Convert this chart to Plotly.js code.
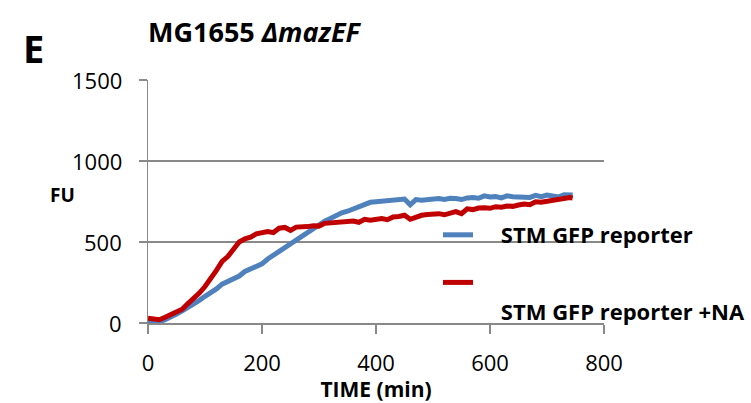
<!DOCTYPE html>
<html>
<head>
<meta charset="utf-8">
<script src="https://cdn.plot.ly/plotly-3.0.1.min.js"></script>
<style>html,body{margin:0;padding:0;background:#fff;}#chart{width:751px;height:403px;}</style>
</head>
<body>
<div id="chart"></div>
<script>
var timeMin = [0,10,20,30,40,50,60,70,80,90,100,110,120,130,140,150,160,170,180,190,200,210,220,230,240,250,260,270,280,290,300,310,320,330,340,350,360,370,380,390,400,410,420,430,440,450,460,470,480,490,500,510,520,530,540,550,560,570,580,590,600,610,620,630,640,650,660,670,680,690,700,710,720,730,740,745];
var stmGfp = [0,2,8,20,35,55,75,95,115,140,165,185,210,240,258,275,290,318,335,345,365,395,418,440,465,490,515,540,560,582,600,628,645,665,680,690,705,715,728,745,748,752,750,760,758,765,730,762,758,762,765,768,762,770,768,762,772,775,770,785,778,780,772,785,780,778,782,775,788,780,790,785,778,792,795,790];
var stmGfpNA = [30,25,20,35,50,65,85,120,150,185,225,270,325,380,410,455,500,520,530,550,560,565,558,585,590,572,592,590,595,600,598,615,618,620,628,625,630,622,640,635,640,645,638,655,658,665,640,655,665,670,672,675,668,680,688,675,705,700,710,712,708,718,715,722,720,728,735,730,748,745,752,758,765,768,775,772];
var seriesNames = ["STM GFP reporter", "STM GFP reporter +NA"];
var xTicks = [0,200,400,600,800];
var yTicks = [0,500,1000,1500];

var font = "'Open Sans', sans-serif";
var pad = '\u00a0\u00a0\u00a0\u00a0';
var traces = [
  {x: timeMin, y: stmGfp, type: 'scatter', mode: 'lines', name: pad + '<b>' + seriesNames[0] + '</b>',
   legendgroup: 'a', line: {color: '#4F81BD', width: 5}},
  {x: timeMin, y: stmGfpNA, type: 'scatter', mode: 'lines', name: '<br>' + pad + '<b>' + seriesNames[1] + '</b>',
   legendgroup: 'b', line: {color: '#C00000', width: 5}}
];
var annotations = [
  {text: '<b>E</b>', xref: 'paper', yref: 'paper', x: (33.5-148)/456, y: (323-47.5)/243, xanchor: 'center', yanchor: 'middle',
   showarrow: false, font: {size: 38, family: font}},
  {text: '<b>FU</b>', xref: 'paper', yref: 'paper', x: (62-148)/456, y: (323-195)/243, xanchor: 'center', yanchor: 'middle',
   showarrow: false, font: {size: 19, family: font}}
];
yTicks.forEach(function (v) {
  annotations.push({text: String(v), xref: 'paper', yref: 'y', x: (124-148)/456, y: v,
    xanchor: 'right', yanchor: 'middle', showarrow: false, font: {size: 22, family: font, color: '#000'}});
});
var layout = {
  width: 751, height: 403,
  margin: {l: 148, r: 147, t: 80, b: 80, autoexpand: false},
  paper_bgcolor: '#fff', plot_bgcolor: '#fff',
  font: {family: font, color: '#000', size: 20},
  title: {text: '<b>MG1655 <i>ΔmazEF</i></b>', x: 148/751, xanchor: 'left', xref: 'container',
          y: 1 - 33/403, yanchor: 'middle', yref: 'container', font: {size: 27, family: font, color: '#000'}},
  xaxis: {range: [0, 800], tickvals: xTicks, ticktext: xTicks.map(String),
          showgrid: false, zeroline: false, showline: true, linecolor: '#898989', linewidth: 1.5,
          ticks: 'outside', ticklen: 9, tickcolor: '#898989', tickwidth: 1.5,
          ticklabelstandoff: 11,
          tickfont: {size: 22, family: font}, title: {text: '<b>TIME (min)</b>', font: {size: 21, family: font}, standoff: 0}},
  yaxis: {range: [0, 1500], tickvals: yTicks, showticklabels: false,
          showgrid: true, gridcolor: '#898989', gridwidth: 1.5, zeroline: false,
          showline: true, linecolor: '#898989', linewidth: 1.5,
          ticks: 'outside', ticklen: 8, tickcolor: '#898989', tickwidth: 1.5},
  showlegend: true,
  legend: {x: 438/751, xref: 'container', y: 1 - 214/403, yref: 'container', xanchor: 'left', yanchor: 'top',
           bgcolor: 'rgba(0,0,0,0)', valign: 'top', font: {size: 22, family: font},
           itemwidth: 30, tracegroupgap: 16},
  annotations: annotations
};
Plotly.newPlot('chart', traces, layout, {displayModeBar: false, staticPlot: true});
</script>
</body>
</html>
